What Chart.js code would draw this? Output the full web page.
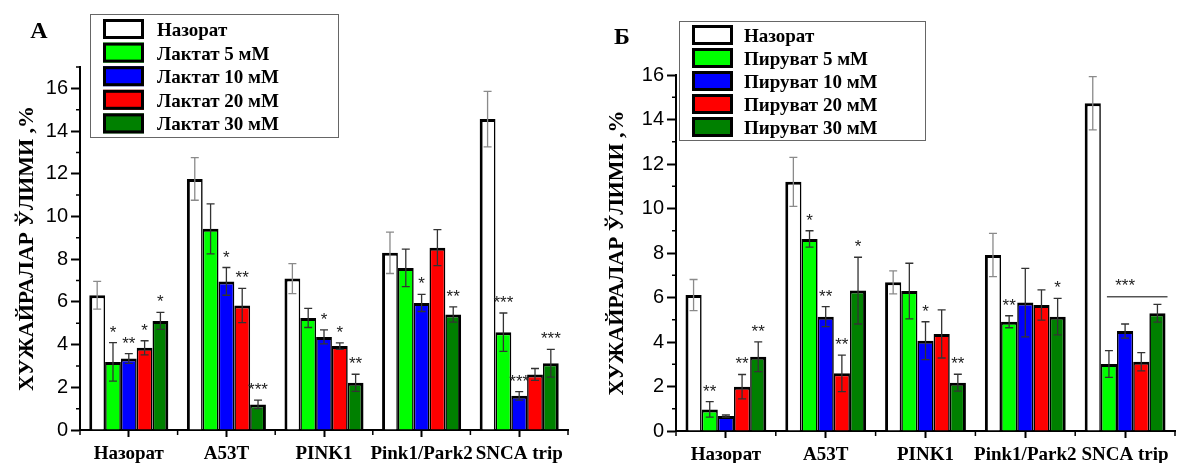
<!DOCTYPE html>
<html>
<head>
<meta charset="utf-8">
<script src="https://cdn.jsdelivr.net/npm/chart.js@4.4.1/dist/chart.umd.min.js"></script>
<style>
  body { margin: 0; background: #fff; }
  .panel { position: absolute; top: 0; }
</style>
</head>
<body>
<canvas id="chartA" class="panel" width="590" height="463" style="left:0"></canvas>
<canvas id="chartB" class="panel" width="591" height="463" style="left:590px"></canvas>
<script>
// data
const categories = ['Назорат', 'A53T', 'PINK1', 'Pink1/Park2', 'SNCA trip'];

const labelsA = ['Назорат', 'Лактат 5 мМ', 'Лактат 10 мМ', 'Лактат 20 мМ', 'Лактат 30 мМ'];
const controlA = [6.31, 11.76, 7.09, 8.30, 14.56];
const lac5 = [3.19, 9.42, 5.25, 7.59, 4.58];
const lac10 = [3.35, 6.96, 4.36, 5.95, 1.60];
const lac20 = [3.85, 5.83, 3.93, 8.54, 2.60];
const lac30 = [5.11, 1.20, 2.21, 5.41, 3.13];
const controlAErr = [0.65, 1.0, 0.7, 0.97, 1.3];
const lac5Err = [0.9, 1.17, 0.45, 0.88, 0.9];
const lac10Err = [0.23, 0.65, 0.33, 0.4, 0.2];
const lac20Err = [0.33, 0.8, 0.15, 0.84, 0.28];
const lac30Err = [0.4, 0.2, 0.4, 0.36, 0.65];
const controlAStars = ['', '', '', '', ''];
const lac5Stars = ['*', '', '', '', '***'];
const lac10Stars = ['**', '*', '*', '*', '***'];
const lac20Stars = ['*', '**', '*', '', ''];
const lac30Stars = ['*', '***', '**', '**', '***'];

const labelsB = ['Назорат', 'Пируват 5 мМ', 'Пируват 10 мМ', 'Пируват 20 мМ', 'Пируват 30 мМ'];
const controlB = [6.11, 11.2, 6.68, 7.91, 14.73];
const pyr5 = [0.97, 8.63, 6.29, 4.91, 3.01];
const pyr10 = [0.67, 5.14, 4.06, 5.77, 4.49];
const pyr20 = [1.99, 2.59, 4.36, 5.66, 3.11];
const pyr30 = [3.34, 6.31, 2.17, 5.14, 5.29];
const controlBErr = [0.7, 1.1, 0.52, 0.97, 1.2];
const pyr5Err = [0.35, 0.37, 1.25, 0.27, 0.6];
const pyr10Err = [0.05, 0.45, 0.85, 1.54, 0.32];
const pyr20Err = [0.55, 0.82, 1.08, 0.68, 0.41];
const pyr30Err = [0.67, 1.5, 0.38, 0.82, 0.4];
const controlBStars = ['', '', '', '', ''];
const pyr5Stars = ['**', '*', '', '**', ''];
const pyr10Stars = ['', '**', '*', '', ''];
const pyr20Stars = ['**', '**', '', '', ''];
const pyr30Stars = ['**', '*', '**', '*', ''];
// SNCA trip: one "***" over all treated bars of panel Б
const bracketB = { category: 4, from: 1, to: 4, value: 6.03, label: '***' };

const barColors = ['#ffffff', '#00ff00', '#0000ff', '#ff0000', '#008000'];
const serif = "'Times New Roman', 'Liberation Serif', serif";
const sans = "Arial, 'Liberation Sans', sans-serif";

function makeChart(id, opts) {
  const datasets = opts.series.map((values, i) => ({
    label: opts.labels[i],
    data: values,
    errors: opts.errors[i],
    stars: opts.stars[i],
    backgroundColor: barColors[i],
    borderColor: '#000',
    borderWidth: { top: 3, left: i === 0 ? 3 : 1.6, right: i === 4 ? 3 : 1.6, bottom: 0 },
    borderSkipped: 'start',
    categoryPercentage: 0.81,
    barPercentage: 1
  }));

  const extras = {
    id: 'extras',
    afterDatasetsDraw(chart) {
      const ctx = chart.ctx;
      const y = chart.scales.y;
      ctx.save();
      ctx.font = '17px ' + sans;
      ctx.textAlign = 'center';
      ctx.textBaseline = 'alphabetic';
      chart.data.datasets.forEach((ds, di) => {
        const meta = chart.getDatasetMeta(di);
        meta.data.forEach((bar, i) => {
          const v = ds.data[i], e = ds.errors[i];
          const top = y.getPixelForValue(v + e);
          const bot = y.getPixelForValue(v - e);
          ctx.strokeStyle = di === 0 ? '#8a8a8a' : '#333';
          ctx.lineWidth = 1.3;
          ctx.beginPath();
          ctx.moveTo(bar.x, top); ctx.lineTo(bar.x, bot);
          ctx.moveTo(bar.x - 4, top); ctx.lineTo(bar.x + 4, top);
          ctx.moveTo(bar.x - 4, bot); ctx.lineTo(bar.x + 4, bot);
          ctx.stroke();
          if (ds.stars[i]) {
            ctx.fillStyle = '#222';
            ctx.fillText(ds.stars[i], bar.x, top - 15 + 10);
          }
        });
      });
      const br = opts.bracket;
      if (br) {
        const b1 = chart.getDatasetMeta(br.from).data[br.category];
        const b2 = chart.getDatasetMeta(br.to).data[br.category];
        const mid = chart.getDatasetMeta(2).data[br.category];
        const ly = y.getPixelForValue(br.value);
        ctx.strokeStyle = '#000';
        ctx.lineWidth = 1;
        ctx.beginPath();
        ctx.moveTo(b1.x - 2, ly); ctx.lineTo(b2.x + b2.width / 2 + 2, ly);
        ctx.stroke();
        ctx.fillStyle = '#222';
        ctx.fillText(br.label, mid.x, ly - 16 + 10);
      }
      ctx.restore();
    },
    afterDraw(chart) {
      const ctx = chart.ctx;
      const area = chart.chartArea;
      const y = chart.scales.y;
      ctx.save();
      // minor ticks
      ctx.strokeStyle = '#000';
      ctx.lineWidth = 1.5;
      ctx.beginPath();
      for (let v = 1; v <= y.max; v += 2) {
        const py = y.getPixelForValue(v);
        ctx.moveTo(area.left - 4, py); ctx.lineTo(area.left, py);
      }
      const n = categories.length;
      for (let i = 0; i <= n; i++) {
        const px = area.left + i * (area.right - area.left) / n;
        ctx.moveTo(px, area.bottom); ctx.lineTo(px, area.bottom + 5);
      }
      ctx.stroke();

      // legend box
      const lg = opts.legend;
      ctx.strokeStyle = '#666';
      ctx.lineWidth = 1;
      ctx.fillStyle = '#fff';
      ctx.fillRect(lg.x, lg.y, lg.w, lg.h);
      ctx.strokeRect(lg.x + 0.5, lg.y + 0.5, lg.w, lg.h);
      chart.data.datasets.forEach((ds, i) => {
        const top = lg.rowTop + i * lg.step;
        ctx.fillStyle = ds.backgroundColor;
        ctx.fillRect(lg.swX, top, 41, 20);
        ctx.strokeStyle = '#000';
        ctx.lineWidth = 3;
        ctx.strokeRect(lg.swX + 1.5, top + 1.5, 38, 17);
        ctx.fillStyle = '#000';
        ctx.font = 'bold 19px ' + serif;
        ctx.textAlign = 'left';
        ctx.textBaseline = 'alphabetic';
        ctx.fillText(ds.label, lg.textX, top + 17);
      });

      // panel letter
      ctx.fillStyle = '#000';
      ctx.font = 'bold 24px ' + serif;
      ctx.textAlign = 'center';
      ctx.textBaseline = 'middle';
      ctx.fillText(opts.panel.text, opts.panel.x, opts.panel.y);
      ctx.restore();
    }
  };

  return new Chart(document.getElementById(id), {
    type: 'bar',
    data: { labels: categories, datasets: datasets },
    options: {
      responsive: false,
      animation: false,
      layout: { padding: { left: 0, right: opts.padRight, top: opts.padTop, bottom: 0 } },
      plugins: { legend: { display: false }, tooltip: { enabled: false } },
      scales: {
        x: {
          grid: { display: true, drawOnChartArea: false, offset: false, tickLength: 7, tickWidth: 2, tickColor: '#000' },
          border: { color: '#000', width: 2 },
          ticks: { color: '#000', font: { family: serif, size: 19, weight: 'bold' }, padding: 6, maxRotation: 0, autoSkip: false },
          afterFit: s => { s.height = opts.xHeight; }
        },
        y: {
          min: 0,
          max: opts.yMax,
          ticks: {
            stepSize: 1,
            color: '#000',
            font: { family: sans, size: 20 },
            padding: 3,
            callback: v => (v % 2 === 0 ? v : '')
          },
          grid: {
            drawOnChartArea: false,
            tickLength: 9,
            tickWidth: 2,
            tickColor: c => (c.tick && c.tick.value % 2 === 0 ? '#000' : 'rgba(0,0,0,0)')
          },
          border: { color: '#000', width: 2 },
          title: {
            display: true,
            text: 'ХУЖАЙРАЛАР ЎЛИМИ ,%',
            color: '#000',
            font: { family: serif, size: 22, weight: 'bold' },
            padding: { top: 14, bottom: 0 }
          },
          afterFit: s => { s.width = opts.yWidth; }
        }
      }
    },
    plugins: [extras]
  });
}

makeChart('chartA', {
  labels: labelsA,
  series: [controlA, lac5, lac10, lac20, lac30],
  errors: [controlAErr, lac5Err, lac10Err, lac20Err, lac30Err],
  stars: [controlAStars, lac5Stars, lac10Stars, lac20Stars, lac30Stars],
  yMax: 17,
  padTop: 67,
  padRight: 22,
  yWidth: 80,
  xHeight: 33,
  legend: { x: 90, y: 14, w: 248, h: 123, swX: 103, rowTop: 19, step: 23.6, textX: 157 },
  panel: { text: 'А', x: 39, y: 32 }
});

makeChart('chartB', {
  labels: labelsB,
  series: [controlB, pyr5, pyr10, pyr20, pyr30],
  errors: [controlBErr, pyr5Err, pyr10Err, pyr20Err, pyr30Err],
  stars: [controlBStars, pyr5Stars, pyr10Stars, pyr20Stars, pyr30Stars],
  bracket: bracketB,
  yMax: 16,
  padTop: 75,
  padRight: 6,
  yWidth: 86,
  xHeight: 32,
  legend: { x: 89, y: 21, w: 246, h: 119, swX: 102, rowTop: 25, step: 23, textX: 154 },
  panel: { text: 'Б', x: 32, y: 38 }
});
</script>
</body>
</html>
